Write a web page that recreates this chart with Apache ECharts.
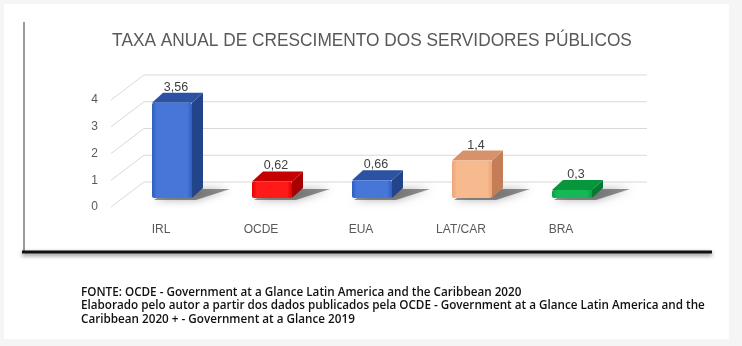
<!DOCTYPE html>
<html>
<head>
<meta charset="utf-8">
<script src="https://cdn.jsdelivr.net/npm/echarts@6/dist/echarts.min.js"></script>
<style>
  html, body { margin: 0; padding: 0; background: #f5f5f5; }
  #chart { width: 742px; height: 346px; }
</style>
</head>
<body>
<div id="chart"></div>
<script>
// Annual growth rate of public servants, by country/region
const categories = ['IRL', 'OCDE', 'EUA', 'LAT/CAR', 'BRA'];
const values = [3.56, 0.62, 0.66, 1.4, 0.3];
const yTicks = [0, 1, 2, 3, 4];

const titleText = 'TAXA ANUAL DE CRESCIMENTO DOS SERVIDORES PÚBLICOS';
const sourceLines = [
  'FONTE: OCDE - Government at a Glance Latin America and the Caribbean 2020',
  'Elaborado pelo autor a partir dos dados publicados pela OCDE - Government at a Glance Latin America and the',
  'Caribbean 2020 + - Government at a Glance 2019'
];

// face colours per bar: front (edge, middle), top, side
const barPalette = [
  { edge: '#2f5ebf', mid: '#4677d8', top: '#2b52a3', side: '#22448a' },
  { edge: '#e00000', mid: '#ff1a1a', top: '#c40000', side: '#a80000' },
  { edge: '#2f5ebf', mid: '#4677d8', top: '#2b52a3', side: '#22448a' },
  { edge: '#eea576', mid: '#f7b98e', top: '#d8916a', side: '#c47d56' },
  { edge: '#06a044', mid: '#14b855', top: '#08963d', side: '#067a32' }
];

// 3D projection: depth of the floor/walls and of the bars
const WALL_DX = 33, WALL_DY = -25;
const BAR_DX = 11, BAR_DY = -9;      // bar front face sits a third into the floor
const DEPTH_DX = 11, DEPTH_DY = -10; // bar thickness
const BAR_W = 40;

const fmt = v => String(v).replace('.', ',');

const chart = echarts.init(document.getElementById('chart'), null, { renderer: 'canvas' });

chart.setOption({
  animation: false,
  backgroundColor: '#f5f5f5',
  graphic: [
    { type: 'rect', z: -10, shape: { x: 4, y: 4, width: 725, height: 335 }, style: { fill: '#ffffff' } },
    { type: 'line', z: -5, shape: { x1: 24, y1: 22, x2: 24, y2: 251 }, style: { stroke: '#9a9a9a', lineWidth: 2 } },
    { type: 'line', z: -5, shape: { x1: 22, y1: 252, x2: 712, y2: 252 },
      style: { stroke: '#111111', lineWidth: 3, shadowColor: 'rgba(0,0,0,0.55)', shadowBlur: 4, shadowOffsetY: 2 } },
    { // chart title, narrowed horizontally
      type: 'text', x: 372, y: 41, scaleX: 0.91,
      style: {
        text: titleText,
        x: 0, y: 0,
        align: 'center', verticalAlign: 'middle',
        font: '19px "Liberation Sans", sans-serif',
        fill: '#595959'
      }
    },
    { // source notes
      type: 'text', x: 81, y: 286,
      style: {
        text: sourceLines.join('\n'),
        font: '600 11.7px "Open Sans", sans-serif',
        lineHeight: 13.3,
        fill: '#111111'
      }
    }
  ],
  grid: { left: 111, width: 500, top: 100, height: 107 },
  xAxis: {
    type: 'category',
    data: categories,
    axisLine: { show: false },
    axisTick: { show: false },
    axisLabel: { margin: 17, fontFamily: '"Liberation Sans", sans-serif', fontSize: 12, color: '#595959' }
  },
  yAxis: {
    type: 'value',
    min: 0, max: 4, interval: 1,
    axisLine: { show: false },
    axisTick: { show: false },
    splitLine: { show: false },
    axisLabel: { margin: 13, padding: [6, 0, 0, 0], fontFamily: '"Liberation Sans", sans-serif', fontSize: 12, color: '#595959' }
  },
  series: [
    {
      // perspective gridlines: front edge diagonal + back wall line
      type: 'custom',
      z: 1,
      silent: true,
      data: yTicks.map(v => [0, v]),
      renderItem: function (params, api) {
        const cs = params.coordSys;
        const y = api.coord([0, api.value(1)])[1];
        const x0 = cs.x, x1 = cs.x + cs.width;
        return {
          type: 'polyline',
          shape: { points: [[x0, y], [x0 + WALL_DX, y + WALL_DY], [x1 + WALL_DX + 3, y + WALL_DY]] },
          style: { stroke: '#d9d9d9', lineWidth: 1, fill: null }
        };
      }
    },
    {
      type: 'custom',
      z: 2,
      silent: true,
      data: values.map((v, i) => [i, v]),
      renderItem: function (params, api) {
        const i = api.value(0);
        const v = api.value(1);
        const base = api.coord([i, 0]);
        const top = api.coord([i, v]);
        const col = barPalette[i];
        const xl = base[0] + BAR_DX - BAR_W / 2;
        const xr = xl + BAR_W;
        const yb = base[1] + BAR_DY;
        const yt = top[1] + BAR_DY;
        const h = yb - yt;
        return {
          type: 'group',
          children: [
            { // cast shadow on the floor
              type: 'polygon',
              shape: { points: [[xl + 2, yb + 2], [xr + 4, yb + 2], [xr + 38, yb - 9], [xl + 20, yb - 9]] },
              style: { fill: 'rgba(40,40,40,0.5)', shadowColor: 'rgba(0,0,0,0.6)', shadowBlur: 9 }
            },
            { // side face
              type: 'polygon',
              shape: { points: [[xr, yt], [xr + DEPTH_DX, yt + DEPTH_DY], [xr + DEPTH_DX, yb + DEPTH_DY], [xr, yb]] },
              style: { fill: col.side }
            },
            { // top face
              type: 'polygon',
              shape: { points: [[xl, yt], [xl + DEPTH_DX, yt + DEPTH_DY], [xr + DEPTH_DX, yt + DEPTH_DY], [xr, yt]] },
              style: { fill: col.top }
            },
            { // front face
              type: 'rect',
              shape: { x: xl, y: yt, width: BAR_W, height: h, r: 2 },
              style: {
                fill: new echarts.graphic.LinearGradient(0, 0, 1, 0, [
                  { offset: 0, color: col.edge },
                  { offset: 0.12, color: col.mid },
                  { offset: 0.88, color: col.mid },
                  { offset: 1, color: col.edge }
                ])
              }
            },
            { // value label
              type: 'text',
              style: {
                text: fmt(v),
                x: (xl + xr) / 2 + 4,
                y: yt + DEPTH_DY + 1,
                align: 'center',
                verticalAlign: 'bottom',
                font: '12.5px "Liberation Sans", sans-serif',
                fill: '#404040'
              }
            }
          ]
        };
      }
    }
  ]
});
</script>
</body>
</html>
